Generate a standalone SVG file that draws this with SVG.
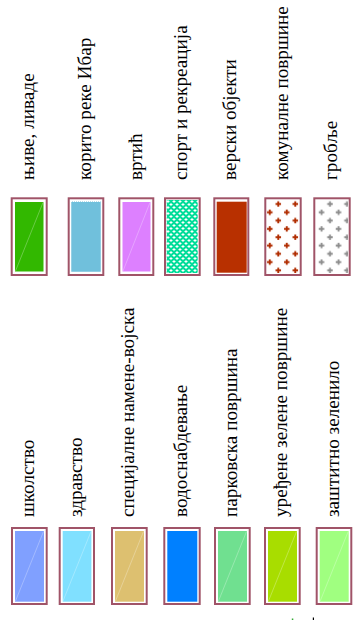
<svg xmlns="http://www.w3.org/2000/svg" width="358" height="620" viewBox="0 0 358 620">
<style>
.frame{fill:#ffffff;stroke:#a05468;stroke-width:2}
.lbl{font-family:"Liberation Serif","Times New Roman",serif;font-size:19.2px;fill:#000000}
.diag{stroke:#ffffff;stroke-opacity:0.35;stroke-width:0.8}
</style>
<defs>
<pattern id="pSport" patternUnits="userSpaceOnUse" x="166" y="200" width="6" height="6">
<rect width="6" height="6" fill="#00dd99"/>
<path d="M0.5 1.5h3M2 0v3M3.5 4.5h3M5 3v3M-2.5 4.5h3M-1 3v3" stroke="#ffffff" stroke-width="1" fill="none"/>
</pattern>
<pattern id="pKom" patternUnits="userSpaceOnUse" x="274.05" y="199.85" width="17" height="16.6">
<path d="M1.5 4.15h5.5M4.25 1.4v5.5M10 12.45h5.5M12.75 9.7v5.5" stroke="#b02c00" stroke-width="1.9" fill="none"/>
</pattern>
<pattern id="pGrob" patternUnits="userSpaceOnUse" x="325.75" y="199.85" width="17" height="16.6">
<path d="M1.5 4.15h5.5M4.25 1.4v5.5M10 12.45h5.5M12.75 9.7v5.5" stroke="#8c8c8c" stroke-width="1.8" fill="none"/>
</pattern>
</defs>
<g id="legend-top">
<g id="njive">
<rect class="frame" x="11.7" y="198.3" width="35" height="76.7"/>
<rect x="15" y="202" width="28.5" height="69.5" fill="#32b800"/>
<line class="diag" x1="15.5" y1="271" x2="43" y2="202.5"/>
<text class="lbl" transform="translate(34.3,180) rotate(-90)">њиве, ливаде</text>
</g>
<g id="korito">
<rect class="frame" x="68.7" y="198.3" width="34.6" height="76.7"/>
<rect x="71" y="201.5" width="30" height="70.5" fill="#70c0dc" stroke="#ffffff" stroke-width="1" stroke-dasharray="1 1"/>
<text class="lbl" transform="translate(90.5,180) rotate(-90)">корито реке Ибар</text>
</g>
<g id="vrtic">
<rect class="frame" x="119.3" y="198.3" width="34" height="76.7"/>
<rect x="122.5" y="202" width="28" height="69.5" fill="#dd80ff"/>
<line class="diag" x1="123" y1="271" x2="150" y2="202.5"/>
<text class="lbl" transform="translate(142,180) rotate(-90)">вртић</text>
</g>
<g id="sport">
<rect class="frame" x="165" y="198.3" width="34.7" height="76.7"/>
<rect x="166.7" y="200" width="31" height="73" fill="url(#pSport)"/>
<text class="lbl" transform="translate(187.3,180) rotate(-90)">спорт и рекреација</text>
</g>
<g id="verski">
<rect class="frame" x="214.3" y="198.3" width="34" height="76.7"/>
<rect x="216.7" y="201.7" width="30" height="71" fill="#b83000"/>
<text class="lbl" transform="translate(236.3,180) rotate(-90)">верски објекти</text>
</g>
<g id="komunalne">
<rect class="frame" x="265.3" y="198.3" width="35.4" height="76.7"/>
<rect x="267" y="200" width="32" height="73" fill="url(#pKom)"/>
<text class="lbl" transform="translate(288,180) rotate(-90)">комуналне површине</text>
</g>
<g id="groblje">
<rect class="frame" x="314.3" y="198.3" width="35.4" height="76.7"/>
<rect x="316" y="200" width="32" height="73" fill="url(#pGrob)"/>
<text class="lbl" transform="translate(337,180) rotate(-90)">гробље</text>
</g>
</g>
<g id="legend-bottom">
<g id="skolstvo">
<rect class="frame" x="12" y="528" width="34.7" height="76"/>
<rect x="15" y="531" width="29" height="70.7" fill="#80a0ff"/>
<line class="diag" x1="15.5" y1="601" x2="43.5" y2="531.5"/>
<text class="lbl" transform="translate(34.3,517) rotate(-90)">школство</text>
</g>
<g id="zdravstvo">
<rect class="frame" x="59.7" y="528" width="34.3" height="76"/>
<rect x="62.7" y="531" width="28.7" height="70.7" fill="#80e0ff"/>
<line class="diag" x1="63" y1="601" x2="91" y2="531.5"/>
<text class="lbl" transform="translate(81.8,517) rotate(-90)">здравство</text>
</g>
<g id="specijalne">
<rect class="frame" x="112" y="528" width="34.7" height="76"/>
<rect x="115" y="531" width="29" height="70.7" fill="#ddc070"/>
<line class="diag" x1="115.5" y1="601" x2="143.5" y2="531.5"/>
<text class="lbl" transform="translate(134.3,517) rotate(-90)">специјалне намене-војска</text>
</g>
<g id="vodosnabdevanje">
<rect class="frame" x="164.3" y="528" width="35.4" height="76"/>
<rect x="167.3" y="531" width="30" height="70.7" fill="#0080ff"/>
<text class="lbl" transform="translate(187,517) rotate(-90)">водоснабдевање</text>
</g>
<g id="parkovska">
<rect class="frame" x="215" y="528" width="34.7" height="76"/>
<rect x="218" y="531" width="29" height="70.7" fill="#70e090"/>
<line class="diag" x1="218.5" y1="601" x2="246.5" y2="531.5"/>
<text class="lbl" transform="translate(237.3,517) rotate(-90)">парковска површина</text>
</g>
<g id="uredjene">
<rect class="frame" x="265" y="528" width="34.7" height="76"/>
<rect x="268" y="531" width="29" height="70.7" fill="#a8dd00"/>
<line class="diag" x1="268.5" y1="601" x2="296.5" y2="531.5"/>
<text class="lbl" transform="translate(287.3,517) rotate(-90)">уређене зелене површине</text>
</g>
<g id="zastitno">
<rect class="frame" x="316.7" y="528" width="34.6" height="76"/>
<rect x="319.7" y="531" width="29" height="70.7" fill="#a0ff80"/>
<line class="diag" x1="320.2" y1="601" x2="348.2" y2="531.5"/>
<text class="lbl" transform="translate(339,517) rotate(-90)">заштитно зеленило</text>
</g>
</g>
<g id="edge-marks">
<rect x="291.8" y="618.5" width="1.5" height="1.5" fill="#33aa33"/>
<rect x="312.8" y="617.5" width="1.2" height="2.5" fill="#000000"/>
</g>
</svg>
